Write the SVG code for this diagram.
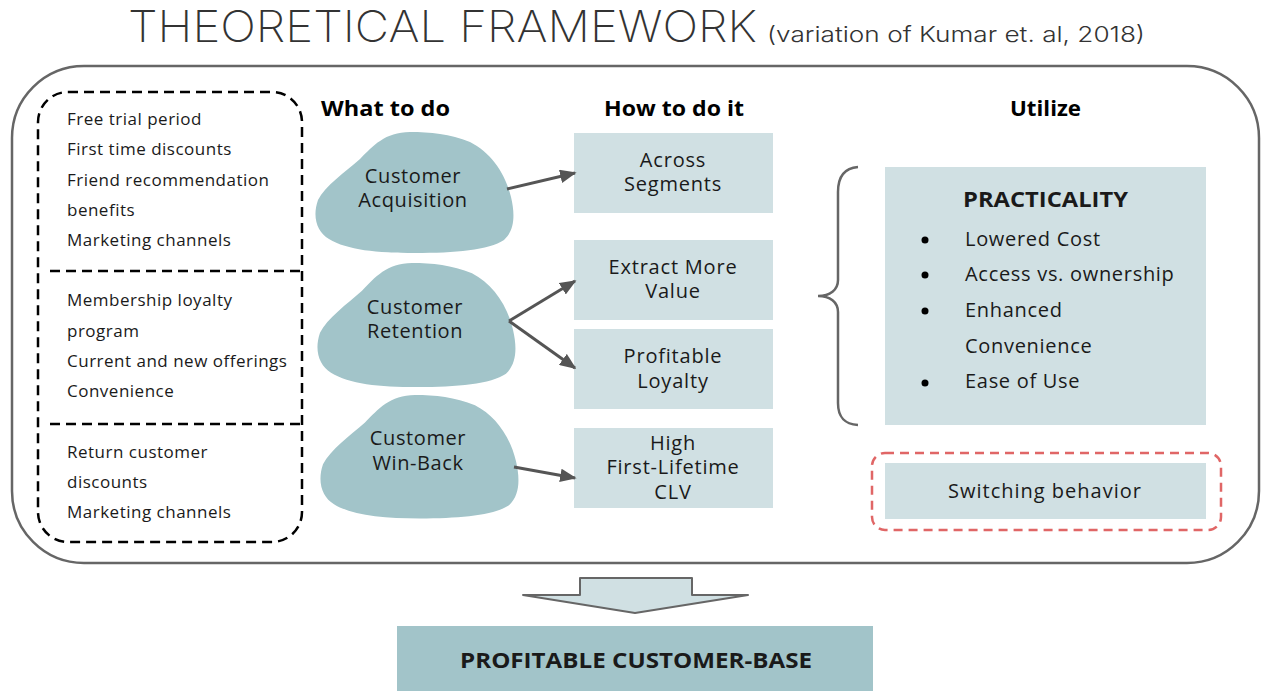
<svg xmlns="http://www.w3.org/2000/svg" width="1261" height="691" viewBox="0 0 1261 691">
  <style>
    .t { font-family: "Open Sans", "Noto Sans", "Liberation Sans", sans-serif; fill: #1a1a1a; }
    .list { font-size: 17px; letter-spacing: 0.5px; }
    .head { font-size: 21px; font-weight: 700; fill: #000; }
    .blobtxt { font-size: 20px; text-anchor: middle; letter-spacing: 0.6px; }
    .boxtxt { font-size: 20px; text-anchor: middle; letter-spacing: 0.8px; }
    .item { font-size: 20px; letter-spacing: 0.7px; }
    .blob { fill: #a2c4c9; }
    .light { fill: #d0e0e3; }
    .conn { stroke: #555; stroke-width: 3; fill: none; marker-end: url(#arrow); }
  </style>
  <defs>
    <marker id="arrow" viewBox="0 0 10 10" refX="9" refY="5" markerWidth="5.5" markerHeight="4.5" orient="auto" markerUnits="strokeWidth" preserveAspectRatio="none">
      <path d="M0,0 L10,5 L0,10 Z" fill="#555"/>
    </marker>
    <path id="blobShape" d="M95,0 C70,0 58,14 45,27 C30,40 10,54 3,68 C-3,85 2,100 14,107 C32,118 62,121 100,121 C140,121 174,118 189,108 C200,98 200,82 196,65 C190,40 175,20 155,10 C135,2 115,0 95,0 Z"/>
  </defs>

  <!-- title -->
  <text x="128" y="42" font-family="Inter, 'Open Sans', sans-serif" font-weight="200" font-size="44" fill="#333" textLength="629" lengthAdjust="spacingAndGlyphs">THEORETICAL FRAMEWORK</text>
  <text x="767" y="42" font-family="Inter, 'Open Sans', sans-serif" font-weight="300" font-size="22" fill="#333" textLength="378" lengthAdjust="spacingAndGlyphs">(variation of Kumar et. al, 2018)</text>

  <!-- outer frame -->
  <rect x="12" y="66" width="1247" height="497" rx="72" ry="72" fill="none" stroke="#666" stroke-width="2.5"/>

  <!-- tactics list -->
  <g id="tactics">
    <rect x="38" y="92" width="264" height="450" rx="30" ry="30" fill="none" stroke="#000" stroke-width="2.5" stroke-dasharray="10 6"/>
    <line x1="50" y1="271" x2="302" y2="271" stroke="#000" stroke-width="2.5" stroke-dasharray="10 6"/>
    <line x1="50" y1="424" x2="302" y2="424" stroke="#000" stroke-width="2.5" stroke-dasharray="10 6"/>
    <g class="t list">
      <text x="67" y="125">Free trial period</text>
      <text x="67" y="155">First time discounts</text>
      <text x="67" y="186">Friend recommendation</text>
      <text x="67" y="216">benefits</text>
      <text x="67" y="246">Marketing channels</text>
      <text x="67" y="306">Membership loyalty</text>
      <text x="67" y="337">program</text>
      <text x="67" y="367">Current and new offerings</text>
      <text x="67" y="397">Convenience</text>
      <text x="67" y="458">Return customer</text>
      <text x="67" y="488">discounts</text>
      <text x="67" y="518">Marketing channels</text>
    </g>
  </g>

  <!-- column headings -->
  <g id="headings" class="t">
    <text class="head" x="321" y="116" textLength="129" lengthAdjust="spacingAndGlyphs">What to do</text>
    <text class="head" x="604" y="116" textLength="140" lengthAdjust="spacingAndGlyphs">How to do it</text>
    <text class="head" x="1010" y="116" textLength="71" lengthAdjust="spacingAndGlyphs">Utilize</text>
  </g>

  <!-- what to do -->
  <g id="acquisition">
    <use href="#blobShape" class="blob" transform="translate(315,132)"/>
    <text class="t blobtxt" x="413" y="183">Customer</text>
    <text class="t blobtxt" x="413" y="207">Acquisition</text>
  </g>
  <g id="retention">
    <use href="#blobShape" class="blob" transform="translate(317,263) scale(1,1.025)"/>
    <text class="t blobtxt" x="415" y="314">Customer</text>
    <text class="t blobtxt" x="415" y="338">Retention</text>
  </g>
  <g id="winback">
    <use href="#blobShape" class="blob" transform="translate(320,395) scale(1,1.02)"/>
    <text class="t blobtxt" x="418" y="445">Customer</text>
    <text class="t blobtxt" x="418" y="470">Win-Back</text>
  </g>

  <!-- how to do it -->
  <g id="segments">
    <rect class="light" x="574" y="133" width="199" height="80"/>
    <text class="t boxtxt" x="673" y="167">Across</text>
    <text class="t boxtxt" x="673" y="191">Segments</text>
  </g>
  <g id="extract">
    <rect class="light" x="574" y="240" width="199" height="80"/>
    <text class="t boxtxt" x="673" y="274">Extract More</text>
    <text class="t boxtxt" x="673" y="298">Value</text>
  </g>
  <g id="loyalty">
    <rect class="light" x="574" y="329" width="199" height="80"/>
    <text class="t boxtxt" x="673" y="363">Profitable</text>
    <text class="t boxtxt" x="673" y="388">Loyalty</text>
  </g>
  <g id="clv">
    <rect class="light" x="574" y="428" width="199" height="80"/>
    <text class="t boxtxt" x="673" y="450">High</text>
    <text class="t boxtxt" x="673" y="474">First-Lifetime</text>
    <text class="t boxtxt" x="673" y="499">CLV</text>
  </g>

  <!-- utilize -->
  <g id="practicality">
    <path d="M858,167 C845,168 838,176 838,192 L838,280 C838,290 830,296 818,296 C830,296 838,302 838,312 L838,403 C838,418 845,424 858,425" fill="none" stroke="#666" stroke-width="2.5"/>
    <rect class="light" x="885" y="167" width="321" height="258"/>
    <text class="t" x="963" y="207" font-size="21" font-weight="700" fill="#000" textLength="165" lengthAdjust="spacingAndGlyphs">PRACTICALITY</text>
    <g fill="#000">
      <circle cx="925" cy="240" r="3.5"/>
      <circle cx="925" cy="275" r="3.5"/>
      <circle cx="925" cy="311" r="3.5"/>
      <circle cx="925" cy="383" r="3.5"/>
    </g>
    <g class="t item">
      <text x="965" y="246">Lowered Cost</text>
      <text x="965" y="281">Access vs. ownership</text>
      <text x="965" y="317">Enhanced</text>
      <text x="965" y="353">Convenience</text>
      <text x="965" y="388">Ease of Use</text>
    </g>
  </g>
  <g id="switching">
    <rect x="872" y="453" width="349" height="77" rx="13" ry="13" fill="none" stroke="#e06666" stroke-width="2.5" stroke-dasharray="9 6"/>
    <rect class="light" x="885" y="463" width="321" height="56"/>
    <text class="t" x="1045" y="498" font-size="20" letter-spacing="1" text-anchor="middle">Switching behavior</text>
  </g>

  <!-- connectors -->
  <g id="connectors">
    <line class="conn" x1="507" y1="189" x2="575" y2="173"/>
    <line class="conn" x1="509" y1="321" x2="575" y2="281"/>
    <line class="conn" x1="509" y1="321" x2="575" y2="368"/>
    <line class="conn" x1="514" y1="467" x2="575" y2="478"/>
    <path d="M580,578 L692,578 L692,595 L748,595 L635,613 L523,595 L580,595 Z" fill="#d0e0e3" stroke="#666" stroke-width="2" stroke-linejoin="round"/>
  </g>

  <!-- result -->
  <g id="result">
    <rect x="397" y="626" width="476" height="70" fill="#a2c4c9"/>
    <text class="t" x="460" y="668" font-size="21" font-weight="700" fill="#000" textLength="352" lengthAdjust="spacingAndGlyphs">PROFITABLE CUSTOMER-BASE</text>
  </g>
</svg>
